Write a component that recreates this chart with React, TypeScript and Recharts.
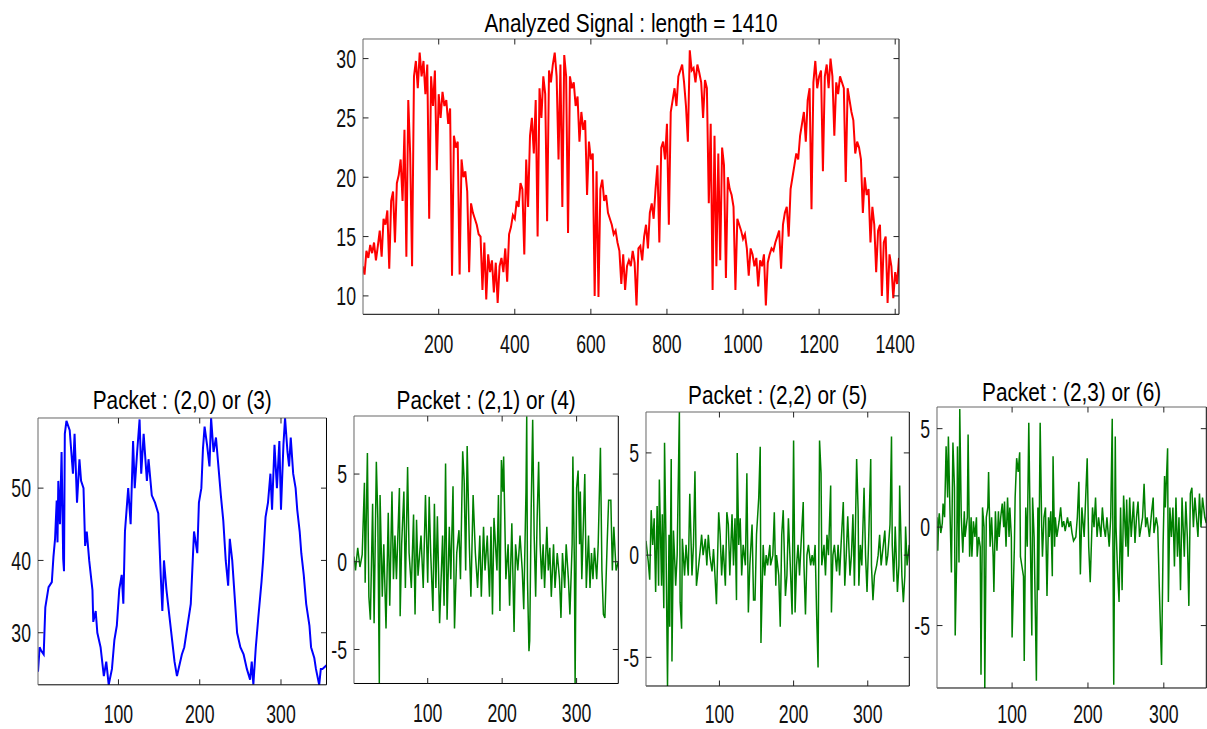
import React from 'react';
import { LineChart, Line, XAxis, YAxis } from 'recharts';

const FONT = '"Liberation Sans", Arial, Helvetica, sans-serif';
const TICK_FS = 26;
const TICK_SX = 0.68;
const TITLE_FS = 26;
const TITLE_SX = 0.8;
const TICK_LEN = 5.5;

// ---------- data ----------
const signalStep = 5; // samples between stored values
const signalValues = [
  12.5, 11.8, 13.8, 13.2, 14.3, 13.6, 14.5, 13.0, 14.2, 15.5,
  13.3, 16.5, 16.0, 17.2, 12.3, 18.0, 18.8, 14.5, 19.5, 20.2,
  21.5, 18.0, 24.0, 13.3, 26.5, 22.0, 12.5, 28.5, 29.8, 27.5,
  30.5, 28.5, 29.8, 27.0, 29.5, 16.5, 28.5, 26.0, 29.0, 20.6,
  27.0, 25.0, 27.2, 26.0, 26.5, 24.5, 25.8, 11.7, 23.5, 22.5,
  23.0, 11.8, 21.5, 20.0, 20.5, 18.8, 12.0, 17.8, 17.0, 16.5,
  16.0, 15.2, 15.0, 10.5, 14.5, 9.7, 13.5, 12.0, 13.0, 10.3,
  12.8, 9.4, 12.5, 13.2, 12.0, 14.0, 11.2, 15.2, 15.8, 16.8,
  16.5, 18.0, 17.5, 19.5, 19.0, 13.5, 21.5, 17.5, 23.5, 25.0,
  22.0, 26.5, 15.0, 27.5, 25.0, 28.5, 27.0, 16.3, 29.0, 28.0,
  29.5, 30.5, 28.5, 21.5, 29.5, 17.5, 30.3, 28.5, 15.3, 28.5,
  27.5, 28.0, 26.0, 26.8, 23.0, 25.5, 24.0, 24.8, 18.5, 23.0,
  21.5, 22.0, 10.0, 20.5, 9.9, 19.0, 19.8, 18.0, 18.5, 17.0,
  16.5, 16.0, 15.2, 15.5, 14.5, 13.8, 11.0, 13.5, 10.5, 12.5,
  13.0, 12.5, 13.8, 12.8, 9.2, 14.0, 14.2, 13.0, 15.0, 16.0,
  14.0, 17.0, 17.8, 16.5, 19.0, 21.0, 14.5, 22.5, 23.0, 21.5,
  24.5, 16.0, 25.5, 26.5, 27.5, 26.0, 28.5, 29.0, 29.5, 28.0,
  26.0, 23.0, 30.7, 29.0, 29.2, 28.0, 29.5, 28.8, 28.0, 25.0,
  28.2, 27.5, 17.8, 24.5, 10.5, 23.5, 12.5, 22.0, 13.0, 22.5,
  21.0, 11.5, 20.0, 19.0, 18.5, 17.5, 10.5, 16.5, 16.0, 15.5,
  14.8, 15.2, 14.0, 11.7, 14.0, 13.5, 12.5, 13.2, 10.8, 13.0,
  12.5, 13.5, 9.2, 12.8, 13.5, 14.0, 13.8, 14.5, 15.0, 15.5,
  12.3, 16.0, 17.0, 17.5, 15.0, 19.0, 20.0, 21.0, 22.0, 21.5,
  23.5, 24.5, 25.5, 23.0, 26.5, 27.5, 17.3, 28.0, 29.8, 27.5,
  28.5, 29.0, 20.5, 28.5, 29.5, 27.5, 30.0, 28.5, 23.5, 28.0,
  27.0, 28.5, 28.0, 27.5, 19.6, 27.5, 26.5, 25.5, 24.8, 22.0,
  23.0, 22.5, 21.5, 17.0, 20.0, 18.5, 19.0, 14.5, 17.5, 16.0,
  12.0, 15.5, 16.0, 10.0, 14.5, 15.0, 9.4, 13.5, 12.5, 9.8,
  12.0, 11.0, 13.2,
];

const signalXTicks = [200, 400, 600, 800, 1000, 1200, 1400];
const signalYTicks = [10, 15, 20, 25, 30];
const packetXTicks = [100, 200, 300];
const approxYTicks = [30, 40, 50];
const detailYTicks = [-5, 0, 5];

const packet20: [number, number][] = [
  [1, 24.6], [3, 28], [5, 27.5], [8, 27], [10, 33.5], [14, 36.3], [18, 37], [20, 40.5], [22, 43], [24, 48.3],
  [25, 42.5], [26, 51], [28, 45], [30, 55], [32, 40.2], [33, 38.5], [34, 57.5], [36, 59.3], [40, 58], [42, 55],
  [44, 52], [46, 57.5], [49, 48], [52, 54], [54, 51], [57, 50], [59, 42], [61, 44], [64, 40], [68, 35.9],
  [69, 31.5], [72, 33], [74, 30], [78, 28], [82, 24], [85, 26], [88, 22.8], [92, 25], [95, 29], [98, 31],
  [101, 36], [104, 38], [106, 34], [108, 44], [110, 47], [112, 50], [115, 45], [118, 56.5], [120, 50], [123, 55],
  [126, 59.5], [128, 52], [131, 57.5], [135, 51], [137, 54], [141, 49], [145, 48], [149, 46.5], [152, 38], [154, 33],
  [156, 40], [159, 36], [163, 32], [167, 28], [169, 26], [172, 24], [175, 25.5], [178, 27], [181, 28], [185, 31],
  [189, 34], [191, 39], [193, 44], [197, 41], [199, 48], [202, 50], [204, 55.5], [206, 58.5], [209, 56], [212, 53],
  [214, 59.7], [217, 55], [220, 57], [223, 53], [226, 49], [229, 45.5], [232, 40], [235, 36.5], [237, 43], [240, 40],
  [243, 35], [246, 30], [250, 28], [254, 27], [258, 25], [262, 23.5], [264, 26], [266, 22.8], [269, 28], [272, 32],
  [276, 37], [278, 40], [281, 46], [284, 48], [287, 52], [289, 47], [292, 56], [295, 50], [298, 56.5], [300, 47],
  [303, 56], [305, 59.7], [308, 55], [310, 53], [312, 57], [315, 52], [318, 50], [320, 47], [323, 44], [325, 41],
  [328, 38], [331, 34], [335, 31], [337, 28], [341, 26.5], [343, 25], [347, 22.8], [349, 25], [351, 25], [356, 25.5],
];

const packet21: [number, number][] = [
  [1, 0.3], [3, -0.5], [6, 0.8], [9, -0.3], [12, 0.4], [15, 4.5], [16, -1.2], [19, 6.2], [21, -2], [23, -3.3],
  [26, 3.3], [28, -3.5], [31, 5.7], [33, 2.5], [35, -7], [36, 3.8], [39, -2], [41, 1], [44, -3.8], [47, 2.8],
  [49, -2.5], [52, 4], [54, -1], [56, 1.5], [58, -1], [62, 4.2], [63, -3.1], [65, 1], [68, 4], [70, -1.5],
  [73, 5.4], [75, 0.5], [78, -1.5], [81, 2.7], [83, -3], [85, 2.4], [87, -0.8], [91, 1.5], [94, -1.5], [97, 3.8],
  [100, -1.2], [102, 3.7], [104, 0.5], [107, -2.8], [109, 3.3], [111, -1.5], [113, 2.6], [116, -3.5], [120, 1.5], [122, -2.5],
  [124, 5.6], [126, -3.3], [129, 2], [131, -1], [134, 4.3], [136, -3.8], [139, 0.5], [142, 1.8], [144, -1], [147, 6.3],
  [149, 4.6], [151, -0.5], [153, 6.6], [156, 0.8], [158, -2], [161, 3.8], [164, 0.5], [167, -1.5], [170, 1.5], [172, -2],
  [175, 2], [177, -0.5], [180, 1.5], [183, -2], [185, 2], [187, -3], [189, 2.5], [193, -0.5], [195, 3.8], [197, -2.8],
  [199, 5.8], [201, 4], [202, 6], [205, -1], [208, 1], [210, -2.5], [213, 2.2], [216, -4], [218, 1], [221, -0.5],
  [224, 1.5], [227, -0.5], [229, -2.7], [232, 4], [233, 8.3], [234, -1], [236, -5.1], [237, -4.5], [239, 3], [241, 8.1],
  [243, 1.5], [245, -2], [247, 2.5], [249, 5.7], [251, 1], [253, -1], [255, 1], [257, -1.5], [260, 2], [262, -0.5],
  [264, 0.8], [266, -2], [269, 1], [271, -1.5], [274, 0.5], [277, -1], [279, -3.2], [281, 0.5], [284, -1.5], [286, 1],
  [289, -1], [291, -3], [294, 1], [295, 6], [297, 0], [298, -7], [300, 4.2], [302, 5.2], [304, 1], [305, 4],
  [307, -1], [309, 2], [311, 5], [313, -1.5], [316, 1.5], [318, -1.5], [320, 0.5], [322, -1], [324, 0.8], [327, -1],
  [329, 1], [332, 6.5], [334, -0.5], [336, -3], [338, -3.2], [341, 1], [343, 3.5], [346, 3.5], [348, -0.5], [350, 2],
  [353, -0.5], [356, 0],
];

const packet22: [number, number][] = [
  [1, 0.7], [4, -0.3], [6, -1.2], [8, 2.2], [10, 0.5], [12, 1.8], [14, -1.8], [16, 2.4], [18, -1.5], [19, 3.7],
  [22, -1.5], [23, 2], [25, -2.6], [26, 5.5], [28, 0.5], [30, -6.4], [32, 1], [33, -3.5], [35, 4.7], [36, -5.2],
  [38, 1.2], [40, -0.5], [41, -1.5], [43, 0], [46, 7], [47, -2.3], [49, -3.6], [50, 0.8], [53, -1], [55, 0.5],
  [58, -1], [60, 3], [63, -1], [65, 0.5], [67, 4.1], [69, -1.5], [72, -0.5], [74, 0.2], [76, 1], [78, 0],
  [81, 0.8], [83, -0.5], [85, 1], [87, 0], [90, -0.8], [92, 0.3], [94, -1], [96, -2.4], [99, 2.1], [101, 1],
  [103, -1], [105, 0.5], [108, -1.5], [110, 2.1], [112, 1.5], [114, -1], [117, 2], [119, -0.5], [121, 1.8], [123, -2.2],
  [124, 5], [126, 0.5], [128, 1.8], [130, -1], [132, 0.5], [135, -0.5], [137, 4], [139, -2.8], [141, -0.5], [144, 1.5],
  [146, -2.2], [148, -2.2], [150, 1], [153, 2.8], [155, 5.3], [156, -4.3], [159, 0.5], [161, -1], [163, 0], [165, -0.5],
  [168, 0.5], [169, -0.5], [172, 0], [174, 2.1], [176, -1.5], [177, 0], [180, -1], [182, -3.5], [184, 1], [186, 2.2],
  [189, -2], [191, -1], [193, 1.8], [195, 0], [198, -2.9], [200, 5.6], [202, -2.8], [204, -0.5], [206, 0.5], [208, -1],
  [210, 0.5], [213, 2.6], [214, -0.5], [216, -2.9], [218, 0], [220, 0.5], [223, -0.5], [225, 0], [227, -0.5], [229, 0.5],
  [231, -2.8], [233, -5.5], [235, 5.6], [237, 4], [238, -0.5], [241, 0.5], [243, -1], [245, 1], [247, 0], [250, 3.4],
  [251, -2.8], [253, 0], [255, 0.5], [258, -0.8], [260, 0.5], [262, -1], [264, 0.5], [267, 2.6], [269, -1.5], [271, 0],
  [273, 1.9], [276, -1], [278, 0], [280, 2], [282, -1.5], [285, 4.7], [287, 2.2], [288, -1.5], [290, 0.5], [292, -0.5],
  [295, 3.3], [297, 0], [299, -1.8], [301, 0.5], [304, 4.7], [305, -0.5], [307, -2.2], [309, -1], [312, -0.5], [314, 0],
  [316, 1], [318, -0.5], [321, 0.5], [323, 1.2], [325, -0.5], [327, 0], [330, 1.5], [332, 5.8], [333, 0.5], [335, -1.3],
  [337, 1.4], [340, -1.8], [342, -0.5], [343, 3.4], [346, -1], [348, -2.3], [350, -1], [351, 1.4], [353, -0.5], [356, 0.5],
];

const packet23: [number, number][] = [
  [1, 0.5], [2, -1.2], [3, 0.2], [4, 0.7], [6, -0.3], [8, 0.2], [9, 1.2], [11, 0.5], [13, 4.1], [15, 1.5],
  [16, 4.6], [18, 1], [20, -2.3], [22, 4.3], [24, 2], [25, -5.5], [27, -1.5], [28, 4.1], [30, -1.8], [31, 6],
  [33, 0.5], [35, -1.3], [37, 0.8], [38, -0.5], [41, 0.5], [42, 4.7], [44, -1.5], [46, 0.5], [47, -1.5], [49, 0.3],
  [51, -0.5], [53, 0.5], [54, -1.5], [56, -0.5], [58, -1], [59, -7.5], [61, 1], [63, 0], [64, -8.2], [66, 0.5],
  [68, 1], [69, 2.8], [71, -1], [73, 0.5], [75, -1.5], [76, -3.3], [78, 0.8], [80, -1.2], [82, 0.8], [83, -0.5],
  [85, 0.5], [87, 1.2], [89, 0], [90, 1.3], [92, -1], [94, 1.5], [96, -0.5], [97, 1], [99, -0.5], [100, -5.6],
  [103, -1], [104, 1.5], [106, 3.5], [108, 2.8], [110, 3.8], [111, -1.5], [113, -2], [115, -2.5], [116, -6.8], [118, 1],
  [120, -1], [122, 5.3], [124, -0.5], [126, -5.5], [127, 1.5], [129, -0.5], [131, -5.2], [132, -7.8], [134, 1], [135, -3.2],
  [137, 5.3], [139, 0], [140, -1.5], [142, 0.5], [144, 1], [146, -3.5], [148, 0.5], [149, -0.5], [151, 0.8], [153, -2.5],
  [154, 3.6], [156, -1], [157, 0.5], [159, -0.5], [162, 0.3], [164, 1], [166, 0], [168, 0.3], [170, -0.2], [173, 0.5],
  [175, 0], [177, 0.3], [179, -0.3], [181, -0.7], [184, -0.5], [186, 0.5], [188, 2.3], [190, -2.4], [192, 1], [195, -0.5],
  [197, 1.5], [199, 3.5], [201, -1], [203, -2.8], [206, 1], [208, 0], [210, 1.5], [212, -0.5], [214, 0.5], [217, -0.5],
  [219, 1], [221, 0], [223, -0.5], [225, 0.5], [228, -1], [230, 0.5], [232, 5.5], [234, -8], [236, 4.6], [237, 0],
  [239, -2.2], [241, -3.8], [243, 1], [245, -3.2], [247, 1.6], [250, -1], [251, 1.4], [253, -1.5], [255, 1.5], [257, -0.5],
  [260, 1.3], [262, -0.8], [264, 0.5], [266, 1.3], [268, -0.5], [272, 0.5], [274, 2.2], [276, 0], [278, 0.5], [281, -0.5],
  [284, 0.8], [286, 1.5], [287, -0.3], [290, 0.5], [292, 0], [294, -3], [297, -7], [299, -1], [301, 2.6], [302, 1],
  [305, 4], [306, -3.8], [308, 1], [310, -0.5], [312, 1], [314, -2], [316, 1.5], [318, -1.5], [320, 0.5], [322, -3.2],
  [324, 1.5], [327, -1.5], [329, 1.3], [331, -0.5], [333, -4], [335, 1.7], [337, 2], [339, 0], [341, 1.5], [343, 0.5],
  [345, -0.5], [347, 1.7], [349, 0], [351, 1.5], [354, 0.5], [356, 0.2],
];

// ---------- ticks ----------
const makeBottomTick = (labelDy: number) => (p: any) => (
  <g transform={`translate(${p.x},${p.y})`}>
    <line x1={0} y1={0} x2={0} y2={-TICK_LEN} stroke="#222" strokeWidth={1} />
    <text
      transform={`translate(0,${labelDy}) scale(${TICK_SX},1)`}
      textAnchor="middle"
      fontSize={TICK_FS}
      fontFamily={FONT}
      fill="#111"
    >
      {p.payload.value}
    </text>
  </g>
);

const TopTick = (p: any) => (
  <g transform={`translate(${p.x},${p.y})`}>
    <line x1={0} y1={0} x2={0} y2={TICK_LEN} stroke="#222" strokeWidth={1} />
  </g>
);

const LeftTick = (p: any) => (
  <g transform={`translate(${p.x},${p.y})`}>
    <line x1={0} y1={0} x2={TICK_LEN} y2={0} stroke="#222" strokeWidth={1} />
    <text
      transform={`translate(-7,9.3) scale(${TICK_SX},1)`}
      textAnchor="end"
      fontSize={TICK_FS}
      fontFamily={FONT}
      fill="#111"
    >
      {p.payload.value}
    </text>
  </g>
);

const RightTick = (p: any) => (
  <g transform={`translate(${p.x},${p.y})`}>
    <line x1={0} y1={0} x2={-TICK_LEN} y2={0} stroke="#222" strokeWidth={1} />
  </g>
);

type PanelProps = {
  left: number;
  top: number;
  plotW: number;
  plotH: number;
  data: { x: number; y: number }[];
  color: string;
  strokeWidth: number;
  xDomain: [number, number];
  yDomain: [number, number];
  xTicks: number[];
  yTicks: number[];
  title: string;
  titleGap: number;
  marginRight: number;
  labelDy: number;
};

function Panel(props: PanelProps) {
  const {
    left, top, plotW, plotH, data, color, strokeWidth, xDomain, yDomain,
    xTicks, yTicks, title, titleGap, marginRight, labelDy,
  } = props;
  const YW = 60;
  const MT = top < 60 ? top : 45;
  const MR = marginRight;
  const XH = 48;
  const bottomTick = makeBottomTick(labelDy);
  return (
    <div style={{ position: 'absolute', left: left - YW, top: top - MT }}>
      <LineChart
        width={YW + plotW + MR}
        height={MT + plotH + XH}
        data={data}
        margin={{ top: MT - 1, right: MR - 1, left: 0, bottom: 0 }}
      >
        <XAxis
          xAxisId="b"
          dataKey="x"
          type="number"
          domain={xDomain}
          ticks={xTicks}
          interval={0}
          allowDataOverflow
          height={XH}
          tickSize={0}
          tickMargin={0}
          tickLine={false}
          axisLine={{ stroke: '#000', strokeWidth: 1 }}
          tick={bottomTick}
        />
        <XAxis
          xAxisId="t"
          orientation="top"
          dataKey="x"
          type="number"
          domain={xDomain}
          ticks={xTicks}
          interval={0}
          allowDataOverflow
          height={1}
          tickSize={0}
          tickMargin={0}
          tickLine={false}
          axisLine={{ stroke: '#666', strokeWidth: 1 }}
          tick={TopTick}
        />
        <YAxis
          yAxisId="l"
          type="number"
          domain={yDomain}
          ticks={yTicks}
          interval={0}
          allowDataOverflow
          width={YW}
          tickSize={0}
          tickMargin={0}
          tickLine={false}
          axisLine={{ stroke: '#666', strokeWidth: 1 }}
          tick={LeftTick}
        />
        <YAxis
          yAxisId="r"
          orientation="right"
          type="number"
          domain={yDomain}
          ticks={yTicks}
          interval={0}
          allowDataOverflow
          width={1}
          tickSize={0}
          tickMargin={0}
          tickLine={false}
          axisLine={{ stroke: '#000', strokeWidth: 1 }}
          tick={RightTick}
        />
        <Line
          xAxisId="t"
          yAxisId="r"
          type="linear"
          dataKey="y"
          stroke="none"
          strokeWidth={0}
          dot={false}
          activeDot={false}
          isAnimationActive={false}
        />
        <Line
          xAxisId="b"
          yAxisId="l"
          type="linear"
          dataKey="y"
          stroke={color}
          strokeWidth={strokeWidth}
          dot={false}
          activeDot={false}
          isAnimationActive={false}
        />
        <text
          transform={`translate(${YW + plotW / 2},${MT - titleGap}) scale(${TITLE_SX},1)`}
          textAnchor="middle"
          fontSize={TITLE_FS}
          fontFamily={FONT}
          fill="#000"
        >
          {title}
        </text>
      </LineChart>
    </div>
  );
}

const toRows = (pairs: [number, number][]) => pairs.map(([x, y]) => ({ x, y }));

export default function App() {
  const signalRows = signalValues.map((y, i) => ({ x: i * signalStep, y }));
  return (
    <div
      style={{
        position: 'absolute',
        left: 0,
        top: 0,
        width: 1207,
        height: 729,
        overflow: 'hidden',
        background: '#fff',
      }}
    >
      <Panel
        left={363}
        top={39}
        plotW={536}
        plotH={275.3}
        data={signalRows}
        color="#ff0000"
        strokeWidth={2}
        xDomain={[1, 1410]}
        yDomain={[8.45, 31.65]}
        xTicks={signalXTicks}
        yTicks={signalYTicks}
        title="Analyzed Signal : length = 1410"
        titleGap={7.3}
        marginRight={30}
        labelDy={38.5}
      />
      <Panel
        left={38}
        top={417.7}
        plotW={288.5}
        plotH={266.8}
        data={toRows(packet20)}
        color="#0000ff"
        strokeWidth={2}
        xDomain={[1, 356]}
        yDomain={[22.8, 59.7]}
        xTicks={packetXTicks}
        yTicks={approxYTicks}
        title="Packet : (2,0) or (3)"
        titleGap={9.4}
        marginRight={12}
        labelDy={38.5}
      />
      <Panel
        left={354}
        top={416}
        plotW={264.3}
        plotH={267.5}
        data={toRows(packet21)}
        color="#008000"
        strokeWidth={1.5}
        xDomain={[1, 356]}
        yDomain={[-6.94, 8.31]}
        xTicks={packetXTicks}
        yTicks={detailYTicks}
        title="Packet : (2,1) or (4)"
        titleGap={6.7}
        marginRight={12}
        labelDy={38.5}
      />
      <Panel
        left={646}
        top={412}
        plotW={263.3}
        plotH={274}
        data={toRows(packet22)}
        color="#008000"
        strokeWidth={1.5}
        xDomain={[1, 356]}
        yDomain={[-6.4, 7.0]}
        xTicks={packetXTicks}
        yTicks={detailYTicks}
        title="Packet : (2,2) or (5)"
        titleGap={7.7}
        marginRight={12}
        labelDy={37.5}
      />
      <Panel
        left={937}
        top={406.5}
        plotW={269.3}
        plotH={281}
        data={toRows(packet23)}
        color="#008000"
        strokeWidth={1.5}
        xDomain={[1, 356]}
        yDomain={[-8.17, 6.1]}
        xTicks={packetXTicks}
        yTicks={detailYTicks}
        title="Packet : (2,3) or (6)"
        titleGap={5.8}
        marginRight={12}
        labelDy={35.5}
      />
    </div>
  );
}
